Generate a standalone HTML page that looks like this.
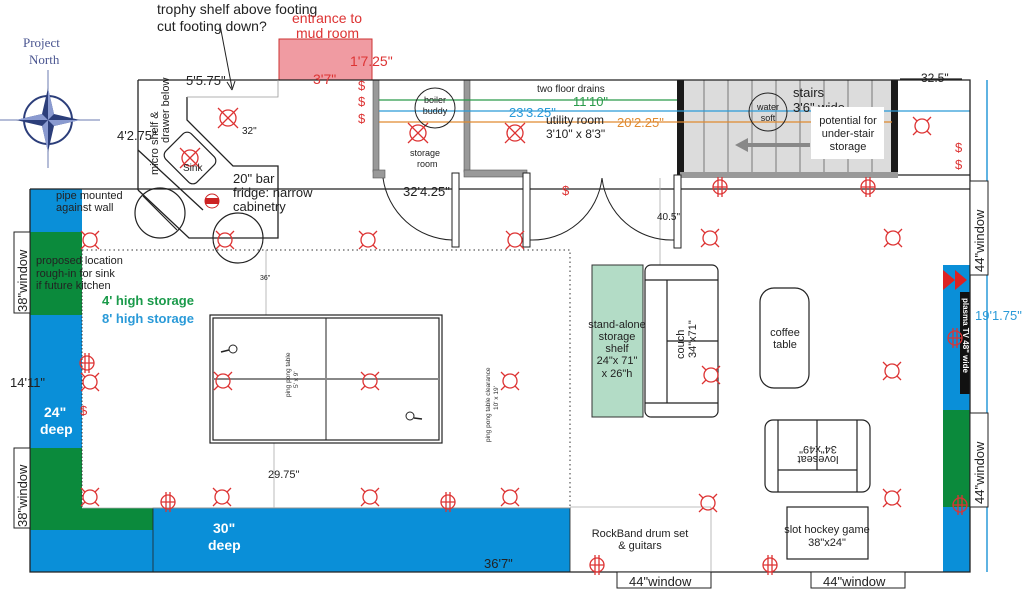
<!DOCTYPE html>
<html><head><meta charset="utf-8"><style>
html,body{margin:0;padding:0;background:#fff}
svg{display:block;font-family:"Liberation Sans",sans-serif}
</style></head><body>
<svg width="1023" height="589" viewBox="0 0 1023 589" xmlns="http://www.w3.org/2000/svg">
<defs>
<g id="lt"><circle r="7" fill="none" stroke="#d33" stroke-width="1.3"/><path d="M-5 -5 L-9 -9 M5 -5 L9 -9 M-5 5 L-9 9 M5 5 L9 9" stroke="#d33" stroke-width="1.3"/></g>
<g id="ltx"><circle r="8" fill="none" stroke="#d33" stroke-width="1.3"/><path d="M-10 -10 L10 10 M10 -10 L-10 10" stroke="#d33" stroke-width="1.3"/></g>
<g id="out"><circle r="7" fill="none" stroke="#d33" stroke-width="1.3"/><path d="M-2 -10 V10 M2 -10 V10 M-7 0 H7" stroke="#d33" stroke-width="1.3"/></g>
</defs>

<!-- storage blocks -->
<rect x="30" y="189" width="52" height="43" fill="#0a8fd8"/>
<rect x="30" y="232" width="52" height="83" fill="#0b8a3c"/>
<rect x="30" y="315" width="52" height="133" fill="#0a8fd8"/>
<rect x="30" y="448" width="52" height="82" fill="#0b8a3c"/>
<rect x="82" y="508" width="71" height="22" fill="#0b8a3c"/>
<rect x="30" y="530" width="123" height="42" fill="#0a8fd8"/>
<rect x="153" y="508" width="417" height="64" fill="#0a8fd8" stroke="#222" stroke-width="0.8"/>
<rect x="943" y="265" width="27" height="145" fill="#0a8fd8"/>
<rect x="943" y="410" width="27" height="97" fill="#0b8a3c"/>
<rect x="943" y="507" width="27" height="65" fill="#0a8fd8"/>
<rect x="960" y="292" width="10" height="102" fill="#111"/>
<text transform="translate(963,298) rotate(90)" font-size="8" font-weight="bold" fill="#fff">plasma TV 48" wide</text>
<path d="M943 270 L955 280 L943 290 Z M955 270 L967 280 L955 290 Z" fill="#d22"/>

<!-- mud room -->
<rect x="279" y="39" width="93" height="41" fill="#f09ba2" stroke="#c33" stroke-width="1"/>

<!-- stairs -->
<rect x="677" y="80" width="221" height="95" fill="#dcdcdc"/>
<g stroke="#777" stroke-width="1">
<line x1="704" y1="80" x2="704" y2="172"/><line x1="728" y1="80" x2="728" y2="172"/><line x1="752" y1="80" x2="752" y2="172"/><line x1="776" y1="80" x2="776" y2="172"/><line x1="800" y1="80" x2="800" y2="172"/><line x1="824" y1="80" x2="824" y2="172"/><line x1="848" y1="80" x2="848" y2="172"/><line x1="872" y1="80" x2="872" y2="172"/>
</g>
<rect x="677" y="80" width="7" height="95" fill="#1a1a1a"/>
<rect x="891" y="80" width="7" height="95" fill="#1a1a1a"/>
<rect x="680" y="172" width="218" height="6" fill="#999"/>
<path d="M810 145 H745" stroke="#888" stroke-width="4"/><path d="M735 145 L748 138 L748 152 Z" fill="#888"/>

<!-- storage room walls -->
<rect x="373" y="80" width="6" height="92" fill="#999" stroke="#555" stroke-width="0.6"/>
<rect x="464" y="80" width="6" height="92" fill="#999" stroke="#555" stroke-width="0.6"/>
<rect x="373" y="170" width="12" height="8" fill="#999" stroke="#555" stroke-width="0.6"/>
<rect x="464" y="170" width="63" height="7" fill="#999" stroke="#555" stroke-width="0.6"/>

<!-- pipe lines -->
<line x1="379" y1="100" x2="677" y2="100" stroke="#2a9a4a" stroke-width="1.2"/>
<line x1="379" y1="111" x2="970" y2="111" stroke="#2a9ad8" stroke-width="1.2"/>
<line x1="379" y1="122" x2="892" y2="122" stroke="#e08a30" stroke-width="1.2"/>
<line x1="987" y1="80" x2="987" y2="572" stroke="#2a9ad8" stroke-width="1.5"/>

<!-- walls -->
<g fill="none" stroke="#222" stroke-width="1.3">
<path d="M138 80 H970 V189"/>
<path d="M138 80 V190"/>
<path d="M30 189 H970"/>
<path d="M30 189 V572 H970 V189"/>
<path d="M898 175 H970"/>
<path d="M138 150 L203 210"/>
<path d="M187 97 V120 L233 166 H278 V238 H189 L138 190"/>
<path d="M900 79 H962"/>
</g>
<path d="M187 97 H278 V80" fill="none" stroke="#999" stroke-width="0.8"/>
<rect x="168" y="140" width="44" height="36" rx="6" transform="rotate(45 190 158)" fill="none" stroke="#222" stroke-width="1.2"/>
<circle cx="160" cy="213" r="25" fill="none" stroke="#222" stroke-width="1.2"/>
<line x1="143" y1="196" x2="177" y2="230" stroke="#222" stroke-width="1.2"/>
<circle cx="238" cy="238" r="25" fill="none" stroke="#222" stroke-width="1.2"/>
<rect x="205" y="198" width="14" height="6" fill="#c22"/><circle cx="212" cy="201" r="7" fill="none" stroke="#c22"/>

<!-- dotted clearance -->
<path d="M82 250 H570 V508" fill="none" stroke="#333" stroke-width="1" stroke-dasharray="1.5,3"/>
<path d="M82 250 V508" fill="none" stroke="#333" stroke-width="1" stroke-dasharray="1.5,2"/>
<line x1="82" y1="508" x2="570" y2="508" stroke="#aaa" stroke-width="0.8"/>
<line x1="570" y1="507" x2="711" y2="507" stroke="#aaa" stroke-width="0.8"/>
<line x1="711" y1="507" x2="711" y2="572" stroke="#aaa" stroke-width="0.8"/>
<line x1="266" y1="250" x2="266" y2="315" stroke="#aaa" stroke-width="0.8"/>
<line x1="274" y1="443" x2="274" y2="508" stroke="#aaa" stroke-width="0.8"/>
<line x1="660" y1="178" x2="660" y2="265" stroke="#aaa" stroke-width="0.8"/>

<!-- doors -->
<g fill="#fff" stroke="#222" stroke-width="1">
<rect x="452" y="173" width="7" height="74"/>
<rect x="523" y="173" width="7" height="74"/>
<rect x="674" y="175" width="7" height="73"/>
</g>
<g fill="none" stroke="#222" stroke-width="1">
<path d="M383 178 A72 72 0 0 0 452 240"/>
<path d="M530 240 A70 70 0 0 0 602 178"/>
<path d="M602 178 A70 70 0 0 0 674 240"/>
</g>

<!-- ping pong -->
<rect x="210" y="315" width="232" height="128" fill="#fff" stroke="#222" stroke-width="1.2"/>
<rect x="213" y="318" width="226" height="122" fill="none" stroke="#222" stroke-width="1.2"/>
<line x1="326" y1="318" x2="326" y2="440" stroke="#222" stroke-width="1"/>
<line x1="213" y1="379" x2="439" y2="379" stroke="#888" stroke-width="2"/>
<circle cx="233" cy="349" r="4" fill="none" stroke="#222"/><line x1="221" y1="352" x2="229" y2="350" stroke="#222" stroke-width="1.5"/>
<circle cx="410" cy="416" r="4" fill="none" stroke="#222"/><line x1="414" y1="418" x2="422" y2="419" stroke="#222" stroke-width="1.5"/>
<text transform="translate(290,397) rotate(-90)" font-size="6.5" fill="#333">ping pong table</text>
<text transform="translate(298,388) rotate(-90)" font-size="6.5" fill="#333">5' x 9'</text>
<text transform="translate(490,442) rotate(-90)" font-size="6.5" fill="#333">ping pong table clearance</text>
<text transform="translate(498,410) rotate(-90)" font-size="6.5" fill="#333">10' x 19'</text>

<!-- furniture -->
<rect x="592" y="265" width="51" height="152" fill="#b3dcc6" stroke="#333" stroke-width="1"/>
<g fill="none" stroke="#222" stroke-width="1.2">
<rect x="645" y="265" width="73" height="152" rx="6"/>
<line x1="667" y1="280" x2="667" y2="403"/><path d="M645 280 H718 M645 403 H718 M667 341 H718"/>
<rect x="760" y="288" width="49" height="100" rx="14"/>
<rect x="765" y="420" width="105" height="72" rx="8"/>
<path d="M778 420 V492 M857 420 V492 M778 470 H857 M817 420 V470"/>
<rect x="787" y="507" width="81" height="52" fill="#fff"/>
</g>

<!-- windows -->
<g fill="#fff" stroke="#222" stroke-width="1">
<rect x="14" y="232" width="16" height="81"/><rect x="14" y="448" width="16" height="80"/>
<rect x="970" y="181" width="18" height="94"/><rect x="970" y="413" width="18" height="94"/>
<rect x="617" y="572" width="94" height="16"/><rect x="811" y="572" width="94" height="16"/>
</g>
<g font-size="13" fill="#222">
<text transform="translate(27,312) rotate(-90)">38"window</text>
<text transform="translate(27,527) rotate(-90)">38"window</text>
<text transform="translate(984,272) rotate(-90)">44"window</text>
<text transform="translate(984,504) rotate(-90)">44"window</text>
<text x="629" y="586">44"window</text><text x="823" y="586">44"window</text>
</g>

<!-- fixtures -->
<use href="#ltx" x="228" y="118"/><use href="#ltx" x="190" y="158"/><use href="#ltx" x="418" y="133"/><use href="#ltx" x="515" y="133"/>
<use href="#lt" x="90" y="240"/><use href="#lt" x="225" y="240"/><use href="#lt" x="368" y="240"/><use href="#lt" x="515" y="240"/><use href="#lt" x="710" y="238"/><use href="#lt" x="893" y="238"/><use href="#lt" x="922" y="126"/>
<use href="#lt" x="90" y="382"/><use href="#lt" x="223" y="381"/><use href="#lt" x="370" y="381"/><use href="#lt" x="510" y="381"/><use href="#lt" x="711" y="375"/><use href="#lt" x="892" y="371"/>
<use href="#lt" x="90" y="497"/><use href="#lt" x="222" y="497"/><use href="#lt" x="370" y="497"/><use href="#lt" x="510" y="497"/><use href="#lt" x="708" y="503"/><use href="#lt" x="892" y="498"/>
<use href="#out" x="168" y="502"/><use href="#out" x="448" y="502"/><use href="#out" x="597" y="565"/><use href="#out" x="770" y="565"/><use href="#out" x="720" y="187"/><use href="#out" x="868" y="187"/><use href="#out" x="87" y="363"/><use href="#out" x="955" y="338"/><use href="#out" x="960" y="505"/>

<g fill="#d33" font-size="13">
<text x="358" y="90">$</text><text x="358" y="106">$</text><text x="358" y="123">$</text>
<text x="562" y="195">$</text><text x="955" y="152">$</text><text x="955" y="169">$</text><text x="80" y="415">$</text>
</g>

<!-- compass -->
<g stroke="#2c3e7a" fill="none" stroke-width="2">
<circle cx="48" cy="120" r="24"/>
</g>
<line x1="0" y1="120" x2="100" y2="120" stroke="#6b7bb0" stroke-width="1"/>
<line x1="48" y1="70" x2="48" y2="168" stroke="#6b7bb0" stroke-width="1"/>
<path d="M48 88 L54 114 L80 120 L54 126 L48 152 L42 126 L16 120 L42 114 Z" fill="#2c3e7a"/>
<path d="M48 88 L54 114 L48 120 Z M80 120 L54 126 L48 120 Z M48 152 L42 126 L48 120 Z M16 120 L42 114 L48 120Z" fill="#8a9ad0"/>
<text x="23" y="47" font-family="Liberation Serif,serif" font-size="13" fill="#4a5590">Project</text>
<text x="29" y="64" font-family="Liberation Serif,serif" font-size="13" fill="#4a5590">North</text>

<!-- labels -->
<g fill="#222">
<text x="157" y="14" font-size="14">trophy shelf above footing</text>
<text x="157" y="31" font-size="14">cut footing down?</text>
<text x="186" y="85" font-size="13">5'5.75"</text>
<text x="117" y="140" font-size="13">4'2.75"</text>
<text transform="translate(158,175) rotate(-90)" font-size="11">micro shelf &amp;</text>
<text transform="translate(169,143) rotate(-90)" font-size="11">drawer below</text>
<text x="242" y="134" font-size="10">32"</text>
<text x="183" y="171" font-size="10">Sink</text>
<text x="233" y="183" font-size="13">20" bar</text>
<text x="233" y="197" font-size="13">fridge: narrow</text>
<text x="233" y="211" font-size="13">cabinetry</text>
<text x="403" y="196" font-size="13">32'4.25"</text>
<text x="410" y="156" font-size="9">storage</text><text x="417" y="167" font-size="9">room</text>
<text x="537" y="92" font-size="10">two floor drains</text>
<text x="546" y="124" font-size="12">utility room</text>
<text x="546" y="138" font-size="12">3'10" x 8'3"</text>
<text x="793" y="97" font-size="13">stairs</text>
<text x="793" y="112" font-size="13">3'6" wide</text>
<text x="921" y="82" font-size="12">32.5"</text>
<text x="56" y="199" font-size="11">pipe mounted</text>
<text x="56" y="211" font-size="11">against wall</text>
<text x="36" y="264" font-size="11">proposed location</text>
<text x="36" y="277" font-size="11">rough-in for sink</text>
<text x="36" y="289" font-size="11">if future kitchen</text>
<text x="10" y="387" font-size="13">14'11"</text>
<text x="260" y="280" font-size="7">36"</text>
<text x="268" y="478" font-size="11">29.75"</text>
<text x="484" y="568" font-size="13">36'7"</text>
<text x="580" y="478" font-size="1"> </text>
<text x="657" y="220" font-size="10">40.5"</text>
<g font-size="11" text-anchor="middle">
<text x="617" y="328">stand-alone</text><text x="617" y="340">storage</text><text x="617" y="352">shelf</text><text x="617" y="364">24"x 71"</text><text x="617" y="377">x 26"h</text>
<text x="785" y="336">coffee</text><text x="785" y="348">table</text>
<text x="640" y="537">RockBand drum set</text><text x="640" y="549">&amp; guitars</text>
<text x="827" y="533">slot hockey game</text><text x="827" y="546">38"x24"</text>
</g>
<text transform="translate(684,359) rotate(-90)" font-size="11">couch</text>
<text transform="translate(696,358) rotate(-90)" font-size="11">34"x71"</text>
<text transform="translate(818,446) rotate(180)" font-size="11" text-anchor="middle">34"x49"</text>
<text transform="translate(818,456) rotate(180)" font-size="11" text-anchor="middle">loveseat</text>
</g>
<circle cx="435" cy="108" r="20" fill="none" stroke="#222" stroke-width="1"/>
<text x="435" y="103" font-size="9" text-anchor="middle" fill="#222">boiler</text>
<text x="435" y="114" font-size="9" text-anchor="middle" fill="#222">buddy</text>
<circle cx="768" cy="112" r="19" fill="none" stroke="#222" stroke-width="1"/>
<text x="768" y="110" font-size="9" text-anchor="middle" fill="#222">water</text>
<text x="768" y="121" font-size="9" text-anchor="middle" fill="#222">soft</text>
<rect x="811" y="107" width="73" height="52" fill="#fff"/>
<g font-size="11" text-anchor="middle" fill="#222"><text x="848" y="124">potential for</text><text x="848" y="137">under-stair</text><text x="848" y="150">storage</text></g>

<line x1="220" y1="25" x2="232" y2="88" stroke="#222" stroke-width="1"/>
<path d="M232 90 L227 82 M232 90 L235 81" stroke="#222" stroke-width="1"/>
<g fill="#d33" font-size="14">
<text x="292" y="23">entrance to</text><text x="296" y="38">mud room</text>
<text x="350" y="66">1'7.25"</text><text x="313" y="84">3'7"</text>
</g>
<text x="573" y="106" font-size="13" fill="#2a9a4a">11'10"</text>
<text x="509" y="117" font-size="13" fill="#2a9ad8">23'3.25"</text>
<text x="617" y="127" font-size="13" fill="#e08a30">20'2.25"</text>
<text x="975" y="320" font-size="13" fill="#2a9ad8">19'1.75"</text>
<text x="102" y="305" font-size="13" font-weight="bold" fill="#1a9a4a">4' high storage</text>
<text x="102" y="323" font-size="13" font-weight="bold" fill="#2a9ad8">8' high storage</text>
<g fill="#fff" font-weight="bold" font-size="14">
<text x="44" y="417">24"</text><text x="40" y="434">deep</text>
<text x="213" y="533">30"</text><text x="208" y="550">deep</text>
</g>
</svg>
</body></html>
